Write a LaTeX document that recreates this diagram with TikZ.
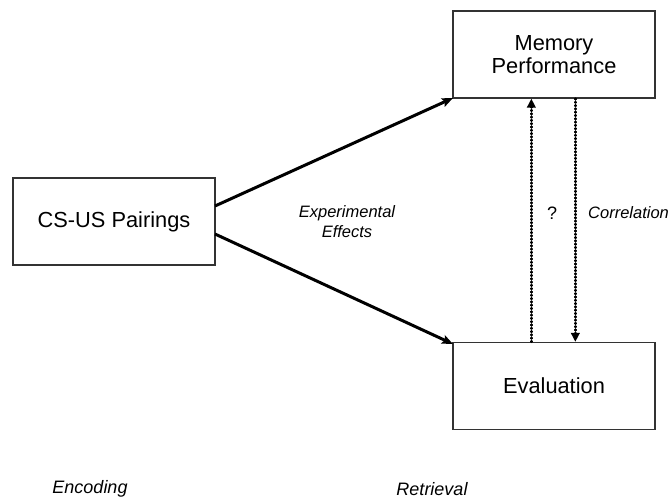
\documentclass[tikz,border=0pt]{standalone}
\usepackage{fontspec}
\setmainfont{Liberation Sans}
\usetikzlibrary{arrows.meta}
\begin{document}
\begin{tikzpicture}[x=1pt,y=-1pt,
  boxnode/.style={draw=black!80,line width=1.3pt,minimum width=202pt,minimum height=87pt,inner sep=0pt,align=center,font=\fontsize{21.8}{23}\selectfont},
  solidarrow/.style={line width=3pt,-{Stealth[length=11pt,width=9pt,inset=2pt]}},
  dotarrow/.style={line width=2.5pt,line cap=round,dash pattern=on 0.7pt off 2.6pt,-{Triangle[length=9pt,width=8.5pt,line cap=butt]}},
  lbl/.style={font=\fontsize{16.5}{20}\selectfont\itshape,align=center,inner sep=0pt},
  bigl/.style={font=\fontsize{18}{20}\selectfont\itshape,inner sep=0pt}]
\useasboundingbox (0,0) rectangle (672,499);
\node[boxnode] (mem) at (554,54.5) {Memory\\Performance};
\node[boxnode] (cs) at (114,221.5) {CS-US Pairings};
\node[boxnode] (ev) at (554,386) {Evaluation};
\coordinate (csa) at (215,206);
\coordinate (csb) at (215,234);
\coordinate (memin) at (453,98);
\coordinate (evin) at (453,344);
\draw[solidarrow] (csa) -- (memin);
\draw[solidarrow] (csb) -- (evin);
\draw[dotarrow] (ev.south west |- ev.north) ++(79,0) coordinate (upst) (upst) -- (upst |- mem.south);
\draw[dotarrow] (mem.south west) ++(123,0) coordinate (dnst) (dnst) -- (dnst |- ev.north);
\node[lbl] (exp) at (347,222) {Experimental\\Effects};
\node[font=\fontsize{18}{20}\selectfont,inner sep=0pt] (q) at (552,213) {?};
\node[lbl,anchor=west] (corr) at (588,213) {Correlation};
\node[bigl] (enc) at (90,489) {Encoding};
\node[bigl] (ret) at (432,489) {Retrieval};
\end{tikzpicture}
\end{document}
